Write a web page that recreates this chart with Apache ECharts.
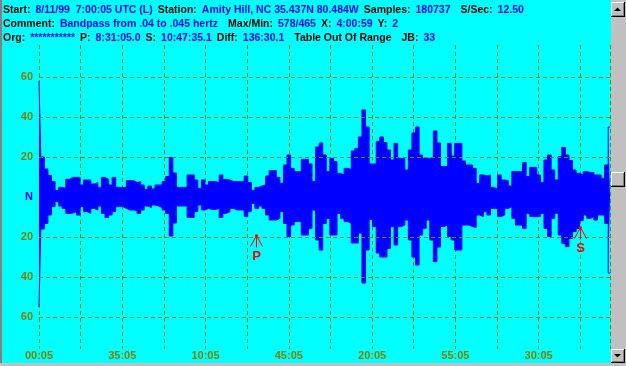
<!DOCTYPE html>
<html>
<head>
<meta charset="utf-8">
<script src="https://cdn.jsdelivr.net/npm/echarts@6/dist/echarts.min.js"></script>
<style>
  html, body { margin: 0; padding: 0; background: #00ffff; }
  #chart { width: 626px; height: 366px; }
</style>
</head>
<body>
<div id="chart"></div>
<script>
// envelope of the trace (max/min per bin), one bin every 1.5 minutes from 7:00:05
var stepMin = 1.5;
var upper = [58, 20, 14, 10.8, 7.7, 3.2, 4.8, 4.3, 8.8, 9.8, 9.8, 9.8, 6, 8.5, 8.5, 6.5, 7.2, 4.8, 9.8, 8.8,
  6, 9.8, 4.8, 4.8, 4.8, 8.2, 8.2, 7.2, 7.7, 6, 3.8, 5.5, 4, 6, 6, 7.7, 10.2, 19.8, 12, 4.8,
  4.8, 4.8, 11, 11, 8.5, 4.3, 8.5, 6, 7.7, 7.7, 7.2, 11, 8.8, 8.5, 7.7, 7.7, 7.7, 7.7, 10.5, 7.2,
  3.2, 4.8, 5.5, 6, 10.5, 13.2, 13.2, 9.8, 6.8, 16, 21, 14.3, 12.7, 12.7, 18.8, 18.8, 16.5, 7.7, 25, 27,
  21, 12.7, 19.3, 17.7, 11.8, 11, 14.3, 13.8, 23, 24.3, 30, 43.5, 35, 16.5, 16.5, 27.7, 30, 27.2, 23.5, 18.5,
  26.8, 19.3, 19.3, 13.5, 23.5, 32, 35, 21, 19.3, 19.3, 20, 33, 27, 15.2, 15.2, 26.8, 20.5, 26.8, 26.8, 18,
  16, 16, 14.3, 6.8, 11, 10.5, 11, 4.8, 3.8, 11, 8.5, 8.2, 5.5, 12.7, 12.7, 12.7, 17.2, 10.2, 14.8, 14.8,
  11, 7.2, 18.5, 21, 13.5, 8.5, 20.2, 24.8, 21, 18.2, 13.5, 11.8, 11, 12.7, 12.2, 12.2, 11, 11, 9.3, 16,
  35];
var lower = [-55, -16, -13.2, -9, -4.8, -2.3, -4.5, -5.7, -8.2, -8, -7.3, -9, -4.8, -7.3, -8.2, -5.7, -6.5, -4.5, -8.2, -10.2,
  -9, -7.3, -4.8, -4.8, -5.7, -6.5, -6.5, -6.8, -8.2, -6.5, -4.5, -5.2, -4, -4.5, -5.2, -6.5, -8.2, -19.5, -13, -4.5,
  -4.5, -4.5, -10.2, -10.2, -7.3, -4, -6.5, -5.7, -6.2, -6.2, -5.7, -10.2, -8.2, -7.3, -5.7, -6.5, -6.5, -6.5, -9.8, -7.3,
  -3.2, -5.7, -4.5, -5.7, -9, -11.5, -11.5, -10.7, -7.3, -13.2, -19.8, -14, -12.3, -12.3, -19, -19, -15.7, -6.5, -21.5, -26.5,
  -13.2, -10.7, -19, -19, -8.2, -10.7, -12.3, -13.2, -23, -23, -18, -43, -26.5, -11.2, -14.8, -28, -30, -30, -25.7, -14.8,
  -24, -14.8, -14, -11.5, -21.5, -30, -34, -19, -15.7, -11.5, -21.5, -32.3, -25, -14.8, -14, -19.8, -21.5, -26.5, -26.5, -14,
  -14, -14.8, -15.2, -9, -9.8, -7.3, -9, -5.7, -5.7, -9.8, -9, -5.7, -4.8, -10.7, -14, -14, -15.7, -8.2, -9.8, -9.8,
  -9.8, -8.2, -15.7, -19.8, -10.7, -8.2, -19, -23.2, -24.8, -20.7, -17.3, -15.7, -11.8, -9, -10.7, -9.8, -11.5, -9, -9, -13.2,
  -38];

// phase picks (minutes after start), arrow tip level, label
var pickTimes = [91, 227.5];
var pickLevels = [-19, -15];
var pickNames = ['P', 'S'];

var gridLevels = [60, 40, 20, -20, -40, -60];
var startSec = 5;          // 7:00:05
var tickMin = 17.5;

var headerLines = [
  '{k|Start:} {v|8/11/99  7:00:05 UTC (L)} {k|Station:} {v|Amity Hill, NC 35.437N 80.484W} {k|Samples:} {v|180737}  {k|S/Sec:} {v|12.50}',
  '{k|Comment:} {v|Bandpass from .04 to .045 hertz}  {k|Max/Min:} {v|578/465} {k|X:} {v|4:00:59} {k|Y:} {v|2}',
  '{k|Org:} {v|***********} {k|P:} {v|8:31:05.0} {k|S:} {v|10:47:35.1} {k|Diff:} {v|136:30.1}  {k|Table Out Of Range}  {k|JB:} {v|33}'
];

var upData = [], loData = [];
for (var i = 0; i < upper.length; i++) {
  upData.push([i * stepMin, upper[i]]);
  loData.push([i * stepMin, lower[i]]);
}
var picks = [];
for (var j = 0; j < pickTimes.length; j++) {
  picks.push([pickTimes[j], pickLevels[j], pickNames[j]]);
}

var olive = '#808000';
var font = 'Liberation Sans';

function pad2(n) { return (n < 10 ? '0' : '') + n; }

function button(x, y, w, h, arrow) {
  var kids = [
    { type: 'rect', shape: { x: x, y: y, width: w, height: h }, style: { fill: '#000000' } },
    { type: 'rect', shape: { x: x, y: y, width: w - 1, height: h - 1 }, style: { fill: '#ffffff' } },
    { type: 'rect', shape: { x: x + 1, y: y + 1, width: w - 2, height: h - 2 }, style: { fill: '#808080' } },
    { type: 'rect', shape: { x: x + 1, y: y + 1, width: w - 3, height: h - 3 }, style: { fill: '#c0c0c0' } }
  ];
  var cx = x + w / 2 - 0.5, cy = y + h / 2 - 0.5;
  if (arrow === 'up') {
    kids.push({ type: 'polygon', shape: { points: [[cx - 3.5, cy + 2], [cx + 3.5, cy + 2], [cx, cy - 1.5]] }, style: { fill: '#000' } });
  } else if (arrow === 'down') {
    kids.push({ type: 'polygon', shape: { points: [[cx - 3.5, cy - 1.5], [cx + 3.5, cy - 1.5], [cx, cy + 2]] }, style: { fill: '#000' } });
  }
  return { type: 'group', children: kids };
}

var myChart = echarts.init(document.getElementById('chart'), null, { renderer: 'canvas' });

var titles = headerLines.map(function (t, k) {
  return {
    text: t,
    left: 3,
    top: 1 + k * 14,
    padding: 0,
    textStyle: {
      rich: {
        k: { color: '#000000', fontFamily: font, fontWeight: 'bold', fontSize: 10.5, lineHeight: 14 },
        v: { color: '#0000ff', fontFamily: font, fontWeight: 'bold', fontSize: 10.5, lineHeight: 14 }
      }
    }
  };
});

var option = {
  animation: false,
  backgroundColor: '#00ffff',
  title: titles,
  grid: { left: 39, right: 16, top: 45, bottom: 17 },
  xAxis: {
    type: 'value',
    min: 0,
    max: 240,
    interval: tickMin,
    axisLine: { show: false },
    axisTick: { show: false },
    splitLine: { show: true, lineStyle: { color: olive, type: [4, 3], width: 1 } },
    axisLabel: {
      margin: 1,
      color: olive,
      fontFamily: font,
      fontWeight: 'bold',
      fontSize: 11,
      showMaxLabel: false,
      formatter: function (v) {
        var n = Math.round(v / tickMin);
        if (Math.abs(n * tickMin - v) > 1e-6 || n % 2 !== 0) return '';
        var s = startSec + Math.round(v * 60);
        var mm = Math.floor(s / 60) % 60;
        return pad2(mm) + ':' + pad2(s % 60);
      }
    }
  },
  yAxis: {
    type: 'value',
    min: -76,
    max: 76,
    interval: 4,
    axisLine: { show: false },
    axisTick: { show: false },
    splitLine: { show: false },
    axisLabel: {
      margin: 6,
      color: olive,
      fontFamily: font,
      fontWeight: 'bold',
      fontSize: 11,
      formatter: function (v) {
        if (v === 0) return '{n|N}';
        if (v % 20 === 0 && Math.abs(v) <= 60) return String(Math.abs(v));
        return '';
      },
      rich: {
        n: { color: '#0000ff', fontFamily: font, fontWeight: 'bold', fontSize: 11 }
      }
    }
  },
  series: [
    {
      type: 'line',
      z: 1,
      data: [],
      silent: true,
      markLine: {
        silent: true,
        symbol: ['none', 'none'],
        label: { show: false },
        lineStyle: { color: olive, type: [4, 3], width: 1 },
        data: gridLevels.map(function (g) { return { yAxis: g }; })
      }
    },
    {
      type: 'line',
      z: 2,
      step: 'middle',
      data: upData,
      showSymbol: false,
      silent: true,
      lineStyle: { color: '#0000ff', width: 1 },
      areaStyle: { color: '#0000ff', opacity: 1 }
    },
    {
      type: 'line',
      z: 2,
      step: 'middle',
      data: loData,
      showSymbol: false,
      silent: true,
      lineStyle: { color: '#0000ff', width: 1 },
      areaStyle: { color: '#0000ff', opacity: 1 }
    },
    {
      type: 'custom',
      z: 5,
      silent: true,
      data: picks,
      renderItem: function (params, api) {
        var p = api.coord([api.value(0), api.value(1)]);
        var x = Math.round(p[0]) + 0.5, y = Math.round(p[1]) + 0.5;
        return {
          type: 'group',
          children: [
            { type: 'polyline', shape: { points: [[x - 6, y + 11], [x, y], [x + 6, y + 11]] },
              style: { stroke: '#ff0000', lineWidth: 1, fill: null } },
            { type: 'line', shape: { x1: x, y1: y, x2: x, y2: y + 12 },
              style: { stroke: '#ff0000', lineWidth: 1 } },
            { type: 'rect', shape: { x: x - 1.5, y: y - 1, width: 3, height: 2 }, style: { fill: '#ff0000' } },
            { type: 'text', x: x, y: y + 14,
              style: { text: api.value(2), fill: '#ff0000', font: 'bold 13px ' + font, align: 'center', verticalAlign: 'top' } }
          ]
        };
      }
    }
  ],
  graphic: [
    { type: 'rect', shape: { x: 0, y: 0, width: 2, height: 366 }, style: { fill: '#808080' } },
    { type: 'rect', shape: { x: 611, y: 0, width: 15, height: 366 }, style: { fill: '#c0c0c0' } },
    { type: 'rect', shape: { x: 0, y: 363, width: 626, height: 3 }, style: { fill: '#c0c0c0' } },
    button(611, 2, 14, 15, 'up'),
    button(611, 172, 14, 15, null),
    button(611, 349, 14, 14, 'down')
  ]
};
myChart.setOption(option);
</script>
</body>
</html>
